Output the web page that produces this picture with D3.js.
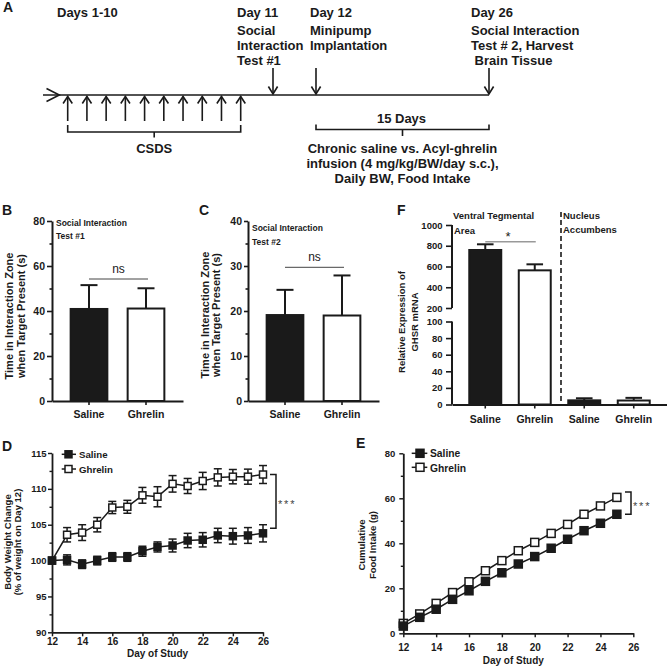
<!DOCTYPE html>
<html><head><meta charset="utf-8">
<script src="https://cdn.jsdelivr.net/npm/d3@7"></script>
<style>
body{margin:0;background:#fff;}
svg{display:block;font-family:"Liberation Sans",Arial,Helvetica,sans-serif;}
</style></head><body>
<svg id="c" width="667" height="668"></svg>
<script>
// ---------------- DATA ----------------
const csdsDays = [1,2,3,4,5,6,7,8,9,10];
const eventDays = [11,12,26];
const eventLabels = [
  ["Day 11","Social","Interaction","Test #1"],
  ["Day 12","Minipump","Implantation"],
  ["Day 26","Social Interaction","Test # 2, Harvest"," Brain Tissue"]
];
const csdsLabel = "CSDS";
const daysLabel = "Days 1-10";
const periodLabel = "15 Days";
const infusionLabel = ["Chronic saline vs. Acyl-ghrelin","infusion (4 mg/kg/BW/day s.c.),","Daily BW, Food Intake"];

const groups = ["Saline","Ghrelin"];
const test1Mean = [40.9, 41.1];
const test1Sem  = [10.6, 9.0];
const test2Mean = [19.1, 19.0];
const test2Sem  = [5.6, 8.9];
const ticksB = [0,20,40,60,80];
const minorB = [10,30,50,70];
const ticksC = [0,10,20,30,40];
const minorC = [5,15,25,35];

const ghsrGroups = ["Saline","Ghrelin","Saline","Ghrelin"];
const ghsrMean = [759, 563, 5.0, 4.8];
const ghsrSem  = [55, 58, 2.5, 3.2];
const ticksFUpper = [200,400,600,800,1000];
const ticksFLower = [0,20,40,60,80,100];

const bwDays = [12,13,14,15,16,17,18,19,20,21,22,23,24,25,26];
const bwSaline    = [100.0,100.1,99.5,100.0,100.5,100.5,101.3,101.9,102.1,102.8,102.9,103.5,103.4,103.5,103.8];
const bwSalineSem = [0.3,0.7,0.6,0.6,0.6,0.6,0.7,0.7,0.9,1.0,1.0,1.0,1.1,1.1,1.2];
const bwGhrelin    = [100.0,103.6,103.9,105.0,107.4,107.5,109.1,108.9,110.7,110.4,111.1,111.6,111.7,111.7,112.0];
const bwGhrelinSem = [0.3,1.0,1.1,1.0,0.85,0.9,1.1,1.4,1.15,1.05,1.2,1.2,1.0,1.05,1.25];
const ticksD = [90,95,100,105,110,115];
const minorD = [92.5,97.5,102.5,107.5,112.5];

const fiDays = [12,13,14,15,16,17,18,19,20,21,22,23,24,25];
const fiSaline  = [3.2,7.1,10.7,15.1,18.9,23.1,26.9,30.8,34.1,37.8,41.8,45.6,48.9,52.9];
const fiGhrelin = [4.4,8.6,13.3,18.1,22.9,27.8,32.3,36.7,40.4,44.4,48.4,52.9,56.6,60.4];
const ticksE = [0,20,40,60,80];
const minorE = [10,30,50,70];
const dayTicks = [12,14,16,18,20,22,24,26];

// ---------------- HELPERS ----------------
const INK = "#1a1a1a";
const svg = d3.select("#c");
const fmt = d3.format("d");

function T(x, y, s, size, o = {}) {
  const t = svg.append("text").attr("x", x).attr("y", y).text(s)
    .attr("font-size", size).attr("font-weight", o.w || "bold")
    .attr("fill", o.fill || INK).attr("text-anchor", o.a || "start")
    .style("white-space", "pre");
  if (o.rot) t.attr("transform", `rotate(-90,${x},${y})`);
  if (o.ls) t.attr("letter-spacing", o.ls);
  return t;
}
function L(x1, y1, x2, y2, w = 1.5, c = INK) {
  return svg.append("line").attr("x1", x1).attr("y1", y1).attr("x2", x2).attr("y2", y2)
    .attr("stroke", c).attr("stroke-width", w);
}
function P(d, w = 1.5, c = INK) {
  return svg.append("path").attr("d", d).attr("fill", "none").attr("stroke", c)
    .attr("stroke-width", w).attr("stroke-linejoin", "miter");
}
function styleAxis(g, fs, w) {
  g.attr("font-family", null).attr("font-size", null);
  g.select(".domain").attr("stroke", INK).attr("stroke-width", w);
  g.selectAll(".tick line").attr("stroke", INK).attr("stroke-width", w * 0.8);
  g.selectAll(".tick text").attr("fill", INK).attr("font-size", fs).attr("font-weight", "bold");
  return g;
}
function minorAxisLeft(x0, scale, vals, size, w) {
  const g = svg.append("g").attr("transform", `translate(${x0},0)`)
    .call(d3.axisLeft(scale).tickValues(vals).tickSize(size).tickFormat(""));
  g.select(".domain").remove();
  g.selectAll(".tick line").attr("stroke", INK).attr("stroke-width", w);
}

// ---------------- PANEL A : timeline ----------------
T(3, 12, "A", 14);
const tx = d3.scaleLinear().domain([1, 10, 11, 12, 26]).range([67.7, 240.7, 273, 316, 489]);
const lineY = 95;
L(43, lineY, tx(26), lineY, 1.6);
P(`M46.5,88.5 L59.3,${lineY} L46.5,101.5`, 1.6);
csdsDays.forEach(d => {
  const x = tx(d);
  L(x, 121, x, lineY + 1.5, 1.6);
  P(`M${x - 4.6},103.5 L${x},${lineY + 1.5} L${x + 4.6},103.5`, 1.6);
});
eventDays.forEach(d => {
  const x = tx(d);
  L(x, 68, x, lineY - 1, 1.6);
  P(`M${x - 4.6},86.5 L${x},${lineY - 1} L${x + 4.6},86.5`, 1.6);
});
T(57, 17, daysLabel, 13);
const evTextX = [237, 310, 471];
const evLineY = [17, 35, 50, 65];
eventLabels.forEach((lines, i) => {
  lines.forEach((s, j) => T(evTextX[i], evLineY[j], s, 13));
});
{
  const a = tx(csdsDays[0]), b = tx(csdsDays[csdsDays.length - 1]), c = (a + b) / 2;
  P(`M${a},125 V132 H${b} V125 M${c},132 V137.5`, 1.6);
  T(c, 153, csdsLabel, 13, { a: "middle" });
}
{
  const a = tx(12), b = tx(26), c = (a + b) / 2;
  P(`M${a},124.5 V129.5 H${b} V124.5 M${c},129.5 V136`, 1.6);
  T(c - 1, 122.5, periodLabel, 13, { a: "middle" });
  infusionLabel.forEach((s, j) => T(c, 153 + j * 15.2, s, 13, { a: "middle" }));
}

// ---------------- BAR PANELS B, C ----------------
function barPanel(cfg) {
  const y = d3.scaleLinear().domain([0, cfg.max]).range([cfg.yBase, cfg.yTop]);
  const x = d3.scaleBand().domain(groups).range([cfg.x0, cfg.x1]).paddingInner(0.356).paddingOuter(0.327);
  groups.forEach((gname, i) => {
    svg.append("rect").attr("x", x(gname)).attr("width", x.bandwidth())
      .attr("y", y(cfg.mean[i])).attr("height", y(0) - y(cfg.mean[i]))
      .attr("fill", i === 0 ? INK : "#fff").attr("stroke", INK).attr("stroke-width", 2);
    const cx = x(gname) + x.bandwidth() / 2;
    L(cx, y(cfg.mean[i]), cx, y(cfg.mean[i] + cfg.sem[i]), 2);
    L(cx - 8.5, y(cfg.mean[i] + cfg.sem[i]), cx + 8.5, y(cfg.mean[i] + cfg.sem[i]), 2);
  });
  const ga = svg.append("g").attr("transform", `translate(${cfg.x0},0)`)
    .call(d3.axisLeft(y).tickValues(cfg.ticks).tickFormat(fmt).tickSize(cfg.tickLen).tickPadding(2).tickSizeOuter(0));
  styleAxis(ga, 10.5, 2);
  minorAxisLeft(cfg.x0, y, cfg.minor, 2.5, 1.6);
  const gx = svg.append("g").attr("transform", `translate(0,${cfg.yBase})`)
    .call(d3.axisBottom(x).tickSize(4).tickPadding(5.5).tickSizeOuter(0));
  styleAxis(gx, 10.5, 2);
  const c0 = x(groups[0]) + x.bandwidth() / 2, c1 = x(groups[1]) + x.bandwidth() / 2;
  L(c0, cfg.nsY, c1 + 2, cfg.nsY, 1, "#444");
  T((c0 + c1) / 2 + 1, cfg.nsY - 6, "ns", 12, { a: "middle", w: "normal" });
  T(cfg.letterX, 215, cfg.letter, 14);
  T(cfg.x0 + 4, cfg.t1Y, "Social Interaction", 8.5);
  T(cfg.x0 + 4, cfg.t2Y, cfg.testLabel, 8.5);
  T(cfg.labX1, cfg.labY, "Time in Interaction Zone", 11, { a: "middle", rot: true });
  T(cfg.labX2, cfg.labY, "when Target Present (s)", 11, { a: "middle", rot: true });
}
barPanel({ x0: 52, x1: 183, yBase: 401, yTop: 221, max: 80, ticks: ticksB, minor: minorB, tickLen: 5,
  mean: test1Mean, sem: test1Sem, nsY: 279, letter: "B", letterX: 2, t1Y: 226, t2Y: 238.5,
  testLabel: "Test #1", labX1: 13, labX2: 24.5, labY: 316 });
barPanel({ x0: 248, x1: 379, yBase: 401, yTop: 221, max: 40, ticks: ticksC, minor: minorC, tickLen: 4,
  mean: test2Mean, sem: test2Sem, nsY: 267.3, letter: "C", letterX: 199, t1Y: 230.5, t2Y: 245,
  testLabel: "Test #2", labX1: 208.5, labX2: 220, labY: 315 });

// ---------------- PANEL F ----------------
{
  const x0 = 452, x1 = 667;
  const y = d3.scaleLinear().domain([0, 100, 200, 1000]).range([404.5, 321.5, 308, 225]);
  const x = d3.scaleBand().domain([0, 1, 2, 3]).range([x0, x1]).paddingInner(0.354).paddingOuter(0.349);
  const cxs = [0, 1, 2, 3].map(i => x(i) + x.bandwidth() / 2);
  ghsrMean.forEach((m, i) => {
    svg.append("rect").attr("x", x(i)).attr("width", x.bandwidth())
      .attr("y", y(m)).attr("height", y(0) - y(m))
      .attr("fill", i % 2 === 0 ? INK : "#fff").attr("stroke", INK).attr("stroke-width", 2);
    const top = y(m + ghsrSem[i]);
    L(cxs[i], y(m), cxs[i], top, 2);
    L(cxs[i] - 8.3, top, cxs[i] + 8.3, top, 2);
  });
  [ticksFUpper, ticksFLower].forEach(tv => {
    const g = svg.append("g").attr("transform", `translate(${x0},0)`)
      .call(d3.axisLeft(y).tickValues(tv).tickFormat(fmt).tickSize(6).tickPadding(3.5));
    styleAxis(g, 9.5, 2);
    g.select(".domain").remove();
    L(x0, y(d3.min(tv)), x0, y(d3.max(tv)), 2);
  });
  const gx = svg.append("g").attr("transform", `translate(0,${y(0)})`)
    .call(d3.axisBottom(x).tickSize(4).tickPadding(7).tickSizeOuter(0).tickFormat(i => ghsrGroups[i]));
  styleAxis(gx, 10.5, 2);
  const sepX = (x(1) + x.bandwidth() + x(2)) / 2 + 1.5;
  L(sepX, 212, sepX, y(0), 1.6).attr("stroke-dasharray", "5,3");
  L(cxs[0], 241.7, cxs[1] + 1, 241.7, 1.5, "#999");
  T((cxs[0] + cxs[1]) / 2 - 2, 240.5, "*", 13, { a: "middle", w: "normal" });
  T(397, 215, "F", 14);
  T(453, 219, "Ventral Tegmental", 9.5);
  T(454, 234, "Area", 9.5);
  T(563, 219, "Nucleus", 9.5);
  T(563, 233, "Accumbens", 9.5);
  T(404.8, 322, "Relative Expression of", 9.5, { a: "middle", rot: true });
  T(417.5, 322, "GHSR mRNA", 9.5, { a: "middle", rot: true });
}

// ---------------- LINE PANELS D, E ----------------
function linePanel(cfg) {
  const x = d3.scaleLinear().domain([12, 26]).range([cfg.x0, cfg.x1]);
  const y = d3.scaleLinear().domain(cfg.yDom).range([cfg.yBase, cfg.yTop]);
  const line = d3.line().x(d => x(d[0])).y(d => y(d[1]));
  const series = [
    { v: cfg.ghr, s: cfg.ghrSem, fill: "#fff" },
    { v: cfg.sal, s: cfg.salSem, fill: INK }
  ];
  series.forEach(se => {
    P(line(cfg.days.map((d, i) => [d, se.v[i]])), 1.5);
  });
  series.forEach(se => {
    if (!se.s) return;
    cfg.days.forEach((d, i) => {
      const cx = x(d), a = y(se.v[i] + se.s[i]), b = y(se.v[i] - se.s[i]);
      L(cx, a, cx, b, 1.5);
      L(cx - 4, a, cx + 4, a, 1.5);
      L(cx - 4, b, cx + 4, b, 1.5);
    });
  });
  const m = cfg.mk;
  series.forEach(se => {
    cfg.days.forEach((d, i) => {
      svg.append("rect").attr("x", x(d) - m / 2).attr("y", y(se.v[i]) - m / 2)
        .attr("width", m).attr("height", m).attr("fill", se.fill)
        .attr("stroke", INK).attr("stroke-width", 1.5);
    });
  });
  const ga = svg.append("g").attr("transform", `translate(${cfg.x0},0)`)
    .call(d3.axisLeft(y).tickValues(cfg.ticks).tickFormat(fmt).tickSize(4).tickPadding(cfg.yPad).tickSizeOuter(0));
  styleAxis(ga, 9.5, 1.8);
  minorAxisLeft(cfg.x0, y, cfg.minor, 2.5, 1.4);
  const gx = svg.append("g").attr("transform", `translate(0,${cfg.yBase})`)
    .call(d3.axisBottom(x).tickValues(dayTicks).tickFormat(fmt).tickSize(4).tickPadding(cfg.xPad).tickSizeOuter(0));
  styleAxis(gx, 10, 1.8);
  T((cfg.x0 + cfg.x1) / 2 + cfg.xlabDx, cfg.xlabY, "Day of Study", 10, { a: "middle" });
  const lg = cfg.leg;
  [[lg.y1, INK, "Saline", lg.t1], [lg.y2, "#fff", "Ghrelin", lg.t2]].forEach(([ly, f, s, ty]) => {
    L(lg.xa, ly, lg.xb, ly, 1.5);
    svg.append("rect").attr("x", lg.xm - m / 2).attr("y", ly - m / 2).attr("width", m).attr("height", m)
      .attr("fill", f).attr("stroke", INK).attr("stroke-width", 1.5);
    T(lg.xt, ty, s, cfg.legFs);
  });
  const top = y(cfg.ghr[cfg.ghr.length - 1]) + cfg.brTopDy;
  const bot = y(cfg.sal[cfg.sal.length - 1]) + cfg.brBotDy;
  P(`M${cfg.brX - 6},${top} H${cfg.brX} V${bot} H${cfg.brX - 6}`, 1.5);
  T(cfg.brX + 2, (top + bot) / 2 + 6.5, "***", 11, { w: "normal", fill: "#444", ls: 1.8 });
  T(cfg.letterX, cfg.letterY, cfg.letter, 14);
  cfg.ylab.forEach((s, j) => T(cfg.ylabX[j], cfg.ylabY, s, 9.5, { a: "middle", rot: true }));
}
linePanel({ x0: 52, x1: 263, yBase: 632.3, yTop: 453, yDom: [90, 115], ticks: ticksD, minor: minorD,
  days: bwDays, sal: bwSaline, salSem: bwSalineSem, ghr: bwGhrelin, ghrSem: bwGhrelinSem, mk: 7,
  yPad: 1.5, xPad: 2, xlabDx: 0, xlabY: 656.5,
  leg: { xa: 61.7, xb: 76, xm: 68.5, xt: 79, y1: 454.3, y2: 469, t1: 457.7, t2: 472.7 }, legFs: 9.7,
  brX: 276, brTopDy: 0, brBotDy: -5, letter: "D", letterX: 2, letterY: 451,
  ylab: ["Body Weight Change", "(% of weight on Day 12)"], ylabX: [10.5, 20.5], ylabY: 542 });
linePanel({ x0: 403.3, x1: 633.3, yBase: 633.3, yTop: 453.3, yDom: [0, 80], ticks: ticksE, minor: minorE,
  days: fiDays, sal: fiSaline, salSem: null, ghr: fiGhrelin, ghrSem: null, mk: 8,
  yPad: 4, xPad: 6.3, xlabDx: -5, xlabY: 664,
  leg: { xa: 411.7, xb: 427.3, xm: 420, xt: 430, y1: 453.3, y2: 467.3, t1: 456.7, t2: 471.7 }, legFs: 10.3,
  brX: 631, brTopDy: -5.5, brBotDy: 0, letter: "E", letterX: 356, letterY: 448,
  ylab: ["Cumulative", "Food Intake (g)"], ylabX: [365, 376.2], ylabY: 545 });
</script>
</body></html>
